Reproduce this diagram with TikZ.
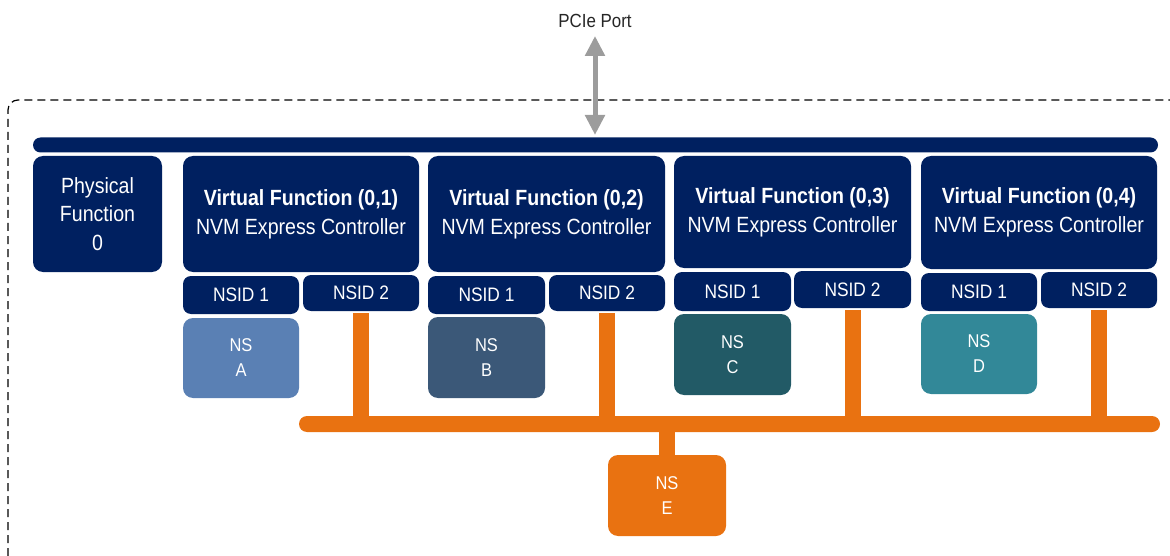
\documentclass[tikz,border=0pt]{standalone}
\usepackage{fontspec}
\setmainfont[FakeStretch=0.89]{Liberation Sans}
\usetikzlibrary{arrows.meta}
\definecolor{navy}{HTML}{002060}
\definecolor{nsA}{HTML}{5A80B4}
\definecolor{nsB}{HTML}{3B5878}
\definecolor{nsC}{HTML}{225A66}
\definecolor{nsD}{HTML}{328898}
\definecolor{orng}{HTML}{E97211}
\definecolor{arrgray}{HTML}{9C9C9C}
\tikzset{
  box/.style={draw=none, inner sep=0pt, outer sep=0pt, text=white, align=center},
  vfbox/.style={box, fill=navy, rounded corners=10pt, font=\fontsize{22}{29}\selectfont},
  nsidbox/.style={box, fill=navy, rounded corners=8pt, font=\fontsize{19.5}{24}\selectfont},
  nsbox/.style={box, rounded corners=10pt, font=\fontsize{18.5}{25}\selectfont},
  busline/.style={draw=orng, line width=16pt, line cap=butt},
  pciearrow/.style={draw=arrgray, line width=5pt, {Triangle[width=19pt,length=20pt]}-{Triangle[width=19pt,length=20pt]}},
}
\begin{document}
\begin{tikzpicture}[x=1pt,y=-1pt]
\useasboundingbox (0,0) rectangle (1170,556);
% dashed frame
\draw[line width=1.2pt, dash pattern=on 8pt off 5pt, rounded corners=10pt] (8,556) -- (8,100) -- (1172,100);
% PCIe port
\node[inner sep=0pt, font=\fontsize{19}{22}\selectfont, text=black!85] (pcie) at (595,21) {PCIe Port};
% host bar
\node[box, fill=navy, rounded corners=7.5pt, minimum width=1125pt, minimum height=15pt] (host) at (595.5,145) {};
\draw[pciearrow] ([yshift=-8pt]pcie.south -| 595,40) -- (595,135);
% Physical function
\node[vfbox, minimum width=129pt, minimum height=116pt, font=\fontsize{22}{28.5}\selectfont] (pf) at (97.5,214) {Physical\\Function\\0};
% Virtual functions
\node[vfbox, minimum width=236pt, minimum height=116pt] (vf1) at (301,214) {\textbf{Virtual Function (0,1)}\\NVM Express Controller};
\node[vfbox, minimum width=237pt, minimum height=116pt] (vf2) at (546.5,214) {\textbf{Virtual Function (0,2)}\\NVM Express Controller};
\node[vfbox, minimum width=237pt, minimum height=112pt] (vf3) at (792.5,212) {\textbf{Virtual Function (0,3)}\\NVM Express Controller};
\node[vfbox, minimum width=236pt, minimum height=113pt] (vf4) at (1039,212.5) {\textbf{Virtual Function (0,4)}\\NVM Express Controller};
% NSIDs
\node[nsidbox, minimum width=116pt, minimum height=38pt] (n11) at (241,295) {NSID 1};
\node[nsidbox, minimum width=116pt, minimum height=36pt] (n12) at (361,293) {NSID 2};
\node[nsidbox, minimum width=117pt, minimum height=38pt] (n21) at (486.5,295) {NSID 1};
\node[nsidbox, minimum width=116pt, minimum height=36pt] (n22) at (607,293) {NSID 2};
\node[nsidbox, minimum width=117pt, minimum height=39pt] (n31) at (732.5,291.5) {NSID 1};
\node[nsidbox, minimum width=117pt, minimum height=37pt] (n32) at (852.5,289.5) {NSID 2};
\node[nsidbox, minimum width=116pt, minimum height=38pt] (n41) at (979,292) {NSID 1};
\node[nsidbox, minimum width=116pt, minimum height=36pt] (n42) at (1099,290) {NSID 2};
% private namespaces
\node[nsbox, fill=nsA, minimum width=116pt, minimum height=80pt] (nsa) at (241,358) {NS\\A};
\node[nsbox, fill=nsB, minimum width=117pt, minimum height=81pt] (nsb) at (486.5,357.5) {NS\\B};
\node[nsbox, fill=nsC, minimum width=117pt, minimum height=81pt] (nsc) at (732.5,354.5) {NS\\C};
\node[nsbox, fill=nsD, minimum width=116pt, minimum height=80pt] (nsd) at (979,354) {NS\\D};
% shared namespace bus
\node[box, fill=orng, rounded corners=8pt, minimum width=861pt, minimum height=16pt] (bus) at (729.5,424) {};
\node[nsbox, fill=orng, minimum width=118pt, minimum height=81pt] (nse) at (667,495.5) {NS\\E};
% connectors
\foreach \n in {n12,n22,n32,n42}{
  \draw[busline] ([yshift=-2pt]\n.south) -- (\n.south |- bus.center);
}
\draw[busline] (nse.north |- bus.center) -- (nse.north);
\end{tikzpicture}
\end{document}
